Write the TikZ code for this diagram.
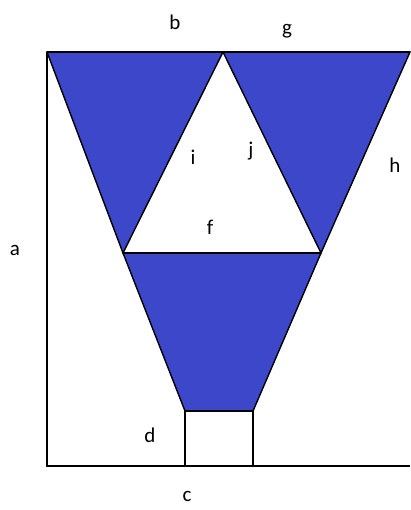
\documentclass[tikz,border=0pt]{standalone}
\usepackage{fontspec}
\setmainfont{Carlito}
\definecolor{fillblue}{RGB}{61,71,201}
\begin{document}
\begin{tikzpicture}[x=1pt,y=-1pt,
  edge/.style={draw=black,line width=1.4pt,line join=miter},
  blue/.style={edge,fill=fillblue},
  lbl/.style={font=\fontsize{21}{24}\selectfont,inner sep=0pt}]
\useasboundingbox (0,0) rectangle (410,510);
\coordinate (TL) at (47,52);
\coordinate (TM) at (223,52);
\coordinate (TR) at (410,52);
\coordinate (FL) at (123,253);
\coordinate (FR) at (321,253);
\coordinate (BL) at (185,411);
\coordinate (BR) at (253,411);
\coordinate (SL) at (185,466);
\coordinate (SR) at (253,466);
\coordinate (BotL) at (47,466);
\coordinate (BotR) at (410,466);
% blue shapes
\path[blue] (TL) -- (TM) -- (FL) -- cycle;
\path[blue] (TM) -- (TR) -- (FR) -- cycle;
\path[blue] (FL) -- (FR) -- (BR) -- (BL) -- cycle;
% lines
\draw[edge] (TL) -- (TR);
\draw[edge] (TL) -- (BotL) -- (BotR);
\draw[edge,fill=white] (BL) rectangle (SR);
\draw[edge] (FL) -- (FR);
% labels
\node[lbl] (lb) at (175,22) {b};
\node[lbl] (lg) at (287,31) {g};
\node[lbl] (la) at (15,250) {a};
\node[lbl] (lh) at (395,165) {h};
\node[lbl] (li) at (193,157) {i};
\node[lbl] (lj) at (251,151) {j};
\node[lbl] (lf) at (210,227) {f};
\node[lbl] (ld) at (150,435) {d};
\node[lbl] (lc) at (187,496) {c};
\end{tikzpicture}
\end{document}
